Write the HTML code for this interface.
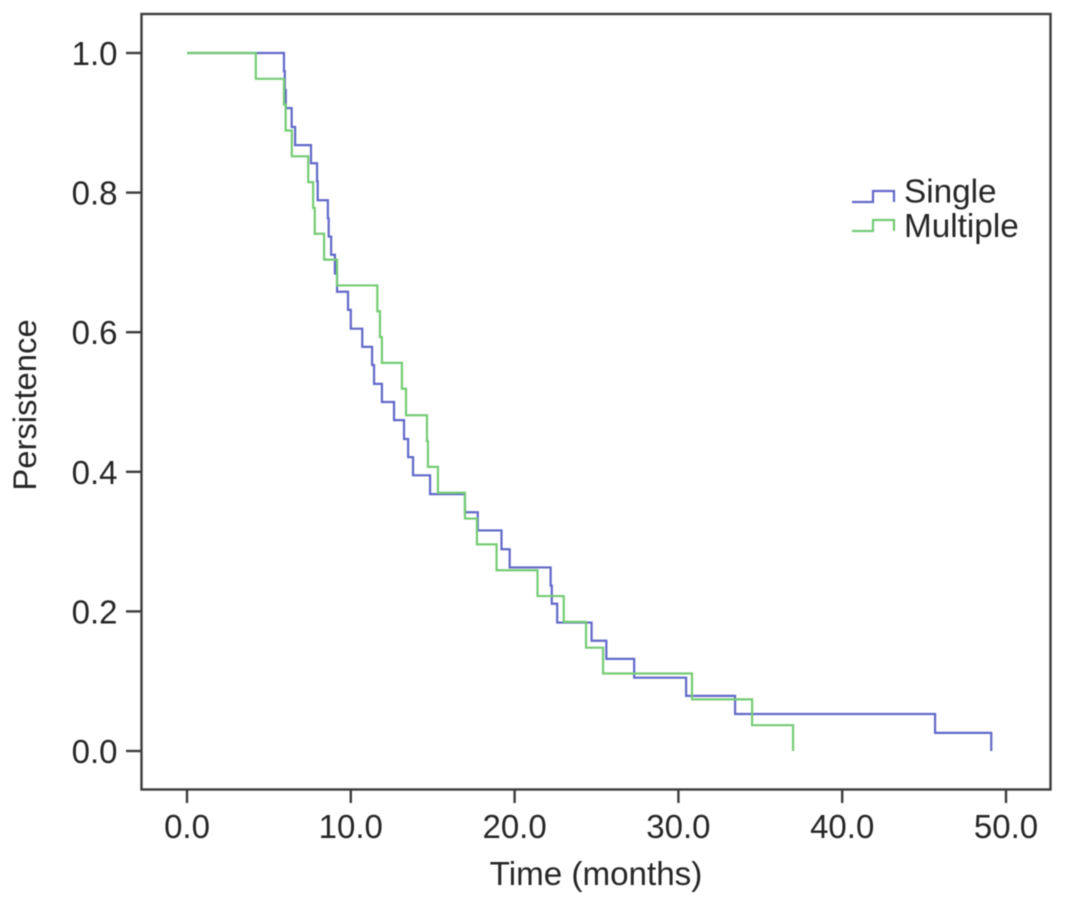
<!DOCTYPE html>
<html lang="en">
<head>
<meta charset="utf-8">
<title>Persistence curve</title>
<style>
html,body{margin:0;padding:0;background:#fff;width:1065px;height:904px;overflow:hidden}
svg{display:block;position:absolute;left:0;top:0}
text{font-family:"Liberation Sans",Arial,sans-serif;fill:#262626}
.soft{filter:blur(0.6px)}
</style>
</head>
<body>
<svg id="chart" width="1065" height="904" viewBox="0 0 1065 904" xmlns="http://www.w3.org/2000/svg">
  <rect x="0" y="0" width="1065" height="904" fill="#ffffff"/>
  <g class="soft">
    <rect x="141.5" y="14" width="909" height="775.5" fill="none" stroke="#3c3c3c" stroke-width="2.4"/>
    <g id="ticks"></g>
    <g id="series"></g>
    <text transform="translate(36 405) rotate(-90)" text-anchor="middle" font-size="32.8">Persistence</text>
    <text x="596" y="885" text-anchor="middle" font-size="33.2">Time (months)</text>
    <g>
      <g>
        <path d="M852 202H873V191H894V202" fill="none" stroke="#6168c8" stroke-width="2.2"/>
        <text x="904" y="202.5" font-size="33.3">Single</text>
      </g>
      <g>
        <path d="M852 231H873V220H894V231" fill="none" stroke="#74cc74" stroke-width="2.2"/>
        <text x="904" y="237" font-size="33.3">Multiple</text>
      </g>
    </g>
  </g>
</svg>
<script>
const xTickValues = [0, 10, 20, 30, 40, 50];
const yTickValues = [0, 0.2, 0.4, 0.6, 0.8, 1];
const singleTimes = [5.92,5.97,6.03,6.39,6.6,7.57,7.94,7.98,8.6,8.65,8.8,9.03,9.16,9.83,10.0,10.7,11.3,11.42,11.9,12.64,13.25,13.5,13.8,14.84,16.97,17.75,19.2,19.7,22.2,22.27,22.6,24.7,25.6,27.3,30.47,33.46,45.67,49.1];
const singlePersistence = [.974,.947,.921,.894,.868,.842,.816,.789,.763,.737,.711,.684,.658,.632,.605,.579,.553,.526,.5,.474,.447,.421,.395,.368,.342,.316,.289,.263,.237,.211,.184,.158,.132,.105,.079,.053,.026,0];
const multipleTimes = [4.2,5.92,6.02,6.4,7.4,7.7,7.8,8.37,9.16,11.62,11.78,11.9,13.12,13.37,14.65,14.71,15.32,16.97,17.7,18.9,21.4,23.0,24.36,25.4,30.83,34.5,37.0];
const multiplePersistence = [.963,.926,.889,.852,.815,.778,.741,.704,.667,.63,.593,.556,.519,.481,.444,.407,.37,.333,.296,.259,.222,.185,.148,.111,.074,.037,0];

const NS = 'http://www.w3.org/2000/svg';
const xScale = t => 187 + t * (1006 - 187) / 50;
const yScale = v => 751 - v * (751 - 53);
const ticks = document.getElementById('ticks');
const series = document.getElementById('series');

function line(x1, y1, x2, y2) {
  const el = document.createElementNS(NS, 'line');
  el.setAttribute('x1', x1);
  el.setAttribute('y1', y1);
  el.setAttribute('x2', x2);
  el.setAttribute('y2', y2);
  el.setAttribute('stroke', '#3c3c3c');
  el.setAttribute('stroke-width', '2.4');
  return el;
}
function label(x, y, anchor, str) {
  const el = document.createElementNS(NS, 'text');
  el.setAttribute('x', x);
  el.setAttribute('y', y);
  el.setAttribute('text-anchor', anchor);
  el.setAttribute('font-size', '33');
  el.textContent = str;
  return el;
}
xTickValues.forEach(v => {
  const t = line(xScale(v), 789.5, xScale(v), 803);
  
  
  ticks.appendChild(t);
  const l = label(xScale(v), 838, 'middle', v.toFixed(1));
  
  
  ticks.appendChild(l);
});
yTickValues.forEach(v => {
  const t = line(126, yScale(v), 141.5, yScale(v));
  
  
  ticks.appendChild(t);
  const l = label(117.5, yScale(v) + 12, 'end', v.toFixed(1));
  
  
  ticks.appendChild(l);
});
function stepPath(times, values) {
  let d = 'M' + xScale(0) + ' ' + yScale(1);
  times.forEach((t, i) => {
    d += 'H' + xScale(t).toFixed(2) + 'V' + yScale(values[i]).toFixed(2);
  });
  return d;
}
const singleLine = document.createElementNS(NS, 'path');


singleLine.setAttribute('d', stepPath(singleTimes, singlePersistence));
singleLine.setAttribute('fill', 'none');
singleLine.setAttribute('stroke', '#6168c8');
singleLine.setAttribute('stroke-width', '2.2');
series.appendChild(singleLine);
const multipleLine = document.createElementNS(NS, 'path');


multipleLine.setAttribute('d', stepPath(multipleTimes, multiplePersistence));
multipleLine.setAttribute('fill', 'none');
multipleLine.setAttribute('stroke', '#74cc74');
multipleLine.setAttribute('stroke-width', '2.2');
series.appendChild(multipleLine);
</script>
</body>
</html>
